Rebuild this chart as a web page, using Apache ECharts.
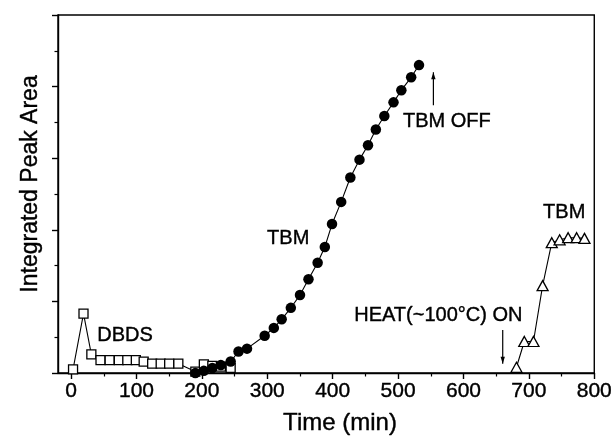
<!DOCTYPE html>
<html>
<head>
<meta charset="utf-8">
<script src="https://cdn.jsdelivr.net/npm/echarts@6/dist/echarts.min.js"></script>
<style>
html,body{margin:0;padding:0;background:#fff;}
#c{width:615px;height:436px;}
</style>
</head>
<body>
<div id="c"></div>
<script>
// ---- data ----
const dbdsX = [3, 19, 31, 45, 59, 73, 86, 99, 111, 124, 137, 150, 164, 190, 203, 216, 229, 244];
const dbdsY = [0.05, 0.83, 0.26, 0.18, 0.18, 0.18, 0.18, 0.18, 0.16, 0.13, 0.13, 0.13, 0.13, 0.02, 0.12, 0.10, 0.09, 0.07];

const tbmX = [190, 203, 216, 229, 244, 256, 269, 296, 310, 322, 336, 350, 363, 377, 388, 399, 413, 427, 441, 454, 466, 479, 493, 505, 520, 532];
const tbmY = [0.00, 0.03, 0.07, 0.11, 0.16, 0.30, 0.34, 0.52, 0.63, 0.75, 0.91, 1.09, 1.31, 1.54, 1.76, 2.08, 2.39, 2.73, 2.98, 3.18, 3.40, 3.59, 3.78, 3.95, 4.13, 4.30];

const heatX = [681, 693, 707, 721, 735, 747, 760, 773, 785];
const heatY = [0.08, 0.44, 0.44, 1.22, 1.82, 1.86, 1.89, 1.89, 1.88];

const xTickLabels = [0, 100, 200, 300, 400, 500, 600, 700, 800];
const xMinorTicks = [50, 150, 250, 350, 450, 550, 650, 750];

// annotations in data coordinates
const notes = [
  {text: 'DBDS', x: 82.5, y: 0.53},
  {text: 'TBM', x: 332, y: 1.885},
  {text: 'TBM OFF', x: 574.5, y: 3.51},
  {text: 'HEAT(~100\u00B0C) ON', x: 561.5, y: 0.81},
  {text: 'TBM', x: 754, y: 2.235}
];
const arrows = [
  {x: 554, y0: 3.74, y1: 4.20},
  {x: 660, y0: 0.60, y1: 0.13}
];

const zip = (a, b) => a.map((v, i) => [v, b[i]]);
const FONT = '"Liberation Sans", Arial, sans-serif';

const chart = echarts.init(document.getElementById('c'), null, {renderer: 'canvas'});
const option = {
  animation: false,
  backgroundColor: '#fff',
  grid: {left: 58, right: 17, top: 15, bottom: 63, show: true, borderColor: '#000', borderWidth: 1.4, backgroundColor: 'transparent'},
  xAxis: [
    {
      type: 'value', min: -20, max: 800,
      axisLine: {show: true, onZero: false, lineStyle: {color: '#000', width: 1.4}},
      axisTick: {show: true, customValues: xTickLabels, length: 6, lineStyle: {color: '#000', width: 1.4}},
      axisLabel: {show: true, customValues: xTickLabels, color: '#000', fontSize: 21, fontFamily: FONT, margin: 8,
        textBorderColor: '#000', textBorderWidth: 0.4},
      splitLine: {show: false}
    },
    {
      type: 'value', min: -20, max: 800, position: 'bottom',
      axisLine: {show: false},
      axisTick: {show: true, customValues: xMinorTicks, length: 3.5, lineStyle: {color: '#000', width: 1.2}},
      axisLabel: {show: false},
      splitLine: {show: false}
    }
  ],
  yAxis: [
    {
      type: 'value', min: 0, max: 5, interval: 1,
      axisLine: {show: true, onZero: false, lineStyle: {color: '#000', width: 1.4}},
      axisTick: {show: true, length: 6, lineStyle: {color: '#000', width: 1.4}},
      minorTick: {show: true, splitNumber: 2, length: 3.5, lineStyle: {color: '#000', width: 1.2}},
      axisLabel: {show: false},
      splitLine: {show: false}
    }
  ],
  series: [
    {
      type: 'line', name: 'DBDS', data: zip(dbdsX, dbdsY),
      symbol: 'rect', symbolSize: 9,
      itemStyle: {color: '#fff', borderColor: '#000', borderWidth: 1.3},
      lineStyle: {color: '#000', width: 1.1}, z: 3
    },
    {
      type: 'line', name: 'TBM', data: zip(tbmX, tbmY),
      symbol: 'circle', symbolSize: 10.5,
      itemStyle: {color: '#000', borderColor: '#000', borderWidth: 0},
      lineStyle: {color: '#000', width: 1.1}, z: 4
    },
    {
      type: 'line', name: 'HEAT', data: zip(heatX, heatY),
      symbol: 'triangle', symbolSize: [11, 10],
      itemStyle: {color: '#fff', borderColor: '#000', borderWidth: 1.3},
      lineStyle: {color: '#000', width: 1.1}, z: 3
    }
  ]
};
chart.setOption(option);

// annotations (positions converted from data coordinates)
const g = [];
notes.forEach(n => {
  const p = chart.convertToPixel({xAxisIndex: 0, yAxisIndex: 0}, [n.x, n.y]);
  g.push({type: 'text', x: p[0], y: p[1], z: 10,
    style: {text: n.text, fill: '#000', stroke: '#000', lineWidth: 0.4, font: '20px ' + FONT, textAlign: 'center', textVerticalAlign: 'middle'}});
});
arrows.forEach(a => {
  const p0 = chart.convertToPixel({xAxisIndex: 0, yAxisIndex: 0}, [a.x, a.y0]);
  const p1 = chart.convertToPixel({xAxisIndex: 0, yAxisIndex: 0}, [a.x, a.y1]);
  const dir = p1[1] < p0[1] ? -1 : 1;
  g.push({type: 'line', z: 10, shape: {x1: p0[0], y1: p0[1], x2: p1[0], y2: p1[1]}, style: {stroke: '#000', lineWidth: 1.2}});
  g.push({type: 'polygon', z: 10, shape: {points: [[p1[0], p1[1]], [p1[0] - 2.2, p1[1] - dir * 7], [p1[0] + 2.2, p1[1] - dir * 7]]}, style: {fill: '#000'}});
});
// axis names
g.push({type: 'text', x: 340, y: 423, z: 10,
  style: {text: 'Time (min)', fill: '#000', stroke: '#000', lineWidth: 0.4, font: '24px ' + FONT, textAlign: 'center', textVerticalAlign: 'middle'}});
g.push({type: 'text', x: 31, y: 184, rotation: Math.PI / 2, z: 10,
  style: {text: 'Integrated Peak Area', fill: '#000', stroke: '#000', lineWidth: 0.4, font: '23px ' + FONT, textAlign: 'center', textVerticalAlign: 'middle'}});
chart.setOption({graphic: g});
</script>
</body>
</html>
